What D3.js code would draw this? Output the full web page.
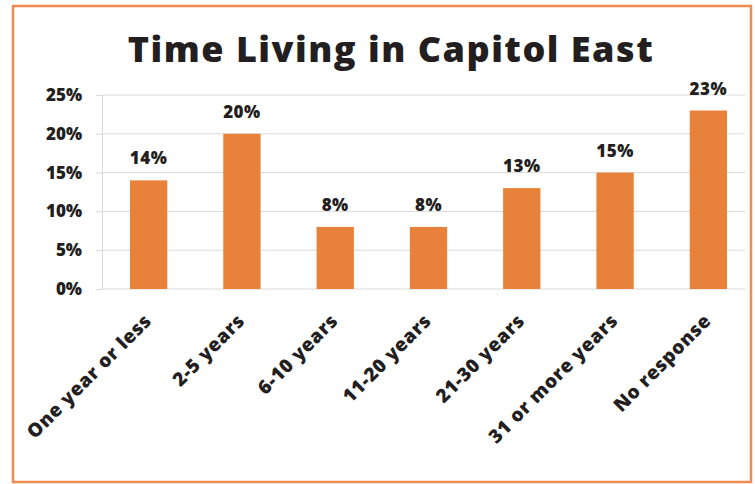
<!DOCTYPE html>
<html>
<head>
<meta charset="utf-8">
<script src="https://cdn.jsdelivr.net/npm/d3@7"></script>
<style>
  html, body { margin: 0; padding: 0; background: #fff; }
  svg { display: block; font-family: "Open Sans", Lato, sans-serif; }
</style>
</head>
<body>
<svg id="chart" width="755" height="484"></svg>
<script>
// Survey responses: how long residents have lived in Capitol East
const categories = ["One year or less", "2-5 years", "6-10 years", "11-20 years",
                    "21-30 years", "31 or more years", "No response"];
const shares = [14, 20, 8, 8, 13, 15, 23];
const yTicks = [0, 5, 10, 15, 20, 25];
const title = "Time Living in Capitol East";

const svg = d3.select("#chart");
const plot = { left: 102, right: 755, top: 95, bottom: 289 };
const ink = "#231e20";
const font = "'Open Sans', Lato, sans-serif";

// Frame around the chart
svg.append("rect")
  .attr("x", 13).attr("y", 6)
  .attr("width", 738).attr("height", 476)
  .attr("fill", "#fff")
  .attr("stroke", "#ef8a52").attr("stroke-width", 2.5);

svg.append("text")
  .attr("x", 391).attr("y", 62)
  .attr("text-anchor", "middle")
  .attr("font-family", font)
  .attr("font-size", 36).attr("font-weight", 800)
  .attr("letter-spacing", 1.5)
  .attr("fill", ink)
  .text(title);

const x = d3.scaleBand()
  .domain(categories)
  .range([plot.left, plot.right])
  .paddingInner(0.6).paddingOuter(0.3);

const y = d3.scaleLinear()
  .domain([0, 25])
  .range([plot.bottom, plot.top]);

// Horizontal gridlines
svg.append("g")
  .selectAll("line")
  .data(yTicks)
  .join("line")
  .attr("x1", plot.left).attr("x2", 745)
  .attr("y1", d => y(d)).attr("y2", d => y(d))
  .attr("stroke", "#d9d9d9").attr("stroke-width", 1);

// Vertical axis with short outward ticks
const yAxis = d3.axisLeft(y)
  .tickValues(yTicks)
  .tickFormat(d => d + "%")
  .tickSize(6).tickPadding(14);
const gy = svg.append("g")
  .attr("transform", `translate(${plot.left},0)`)
  .call(yAxis);
gy.select(".domain").attr("stroke", "#d9d9d9");
gy.selectAll(".tick line").attr("stroke", "#d9d9d9");
gy.selectAll("text")
  .attr("font-family", font)
  .attr("font-size", 17).attr("font-weight", 800)
  .attr("fill", ink);

// Bars
svg.append("g")
  .selectAll("rect")
  .data(shares)
  .join("rect")
  .attr("x", (d, i) => x(categories[i]))
  .attr("y", d => y(d))
  .attr("width", x.bandwidth())
  .attr("height", d => y(0) - y(d))
  .attr("fill", "#e8823a");

// Value labels above bars
svg.append("g")
  .selectAll("text")
  .data(shares)
  .join("text")
  .attr("x", (d, i) => x(categories[i]) + x.bandwidth() / 2)
  .attr("y", d => y(d) - 16)
  .attr("text-anchor", "middle")
  .attr("font-family", font)
  .attr("font-size", 17).attr("font-weight", 800)
  .attr("letter-spacing", 0.5)
  .attr("fill", ink)
  .text(d => d + "%");

// Rotated category labels
const xAxis = d3.axisBottom(x).tickSize(0).tickPadding(0);
const gx = svg.append("g")
  .attr("transform", `translate(0,${plot.bottom})`)
  .call(xAxis);
gx.select(".domain").remove();
gx.selectAll("text")
  .attr("font-family", font)
  .attr("font-size", 19).attr("font-weight", 800)
  .attr("letter-spacing", 0.6)
  .attr("fill", ink)
  .attr("text-anchor", "end")
  .attr("x", 0).attr("y", 0).attr("dy", 0)
  .attr("transform", "translate(4,33) rotate(-45)");
</script>
</body>
</html>
